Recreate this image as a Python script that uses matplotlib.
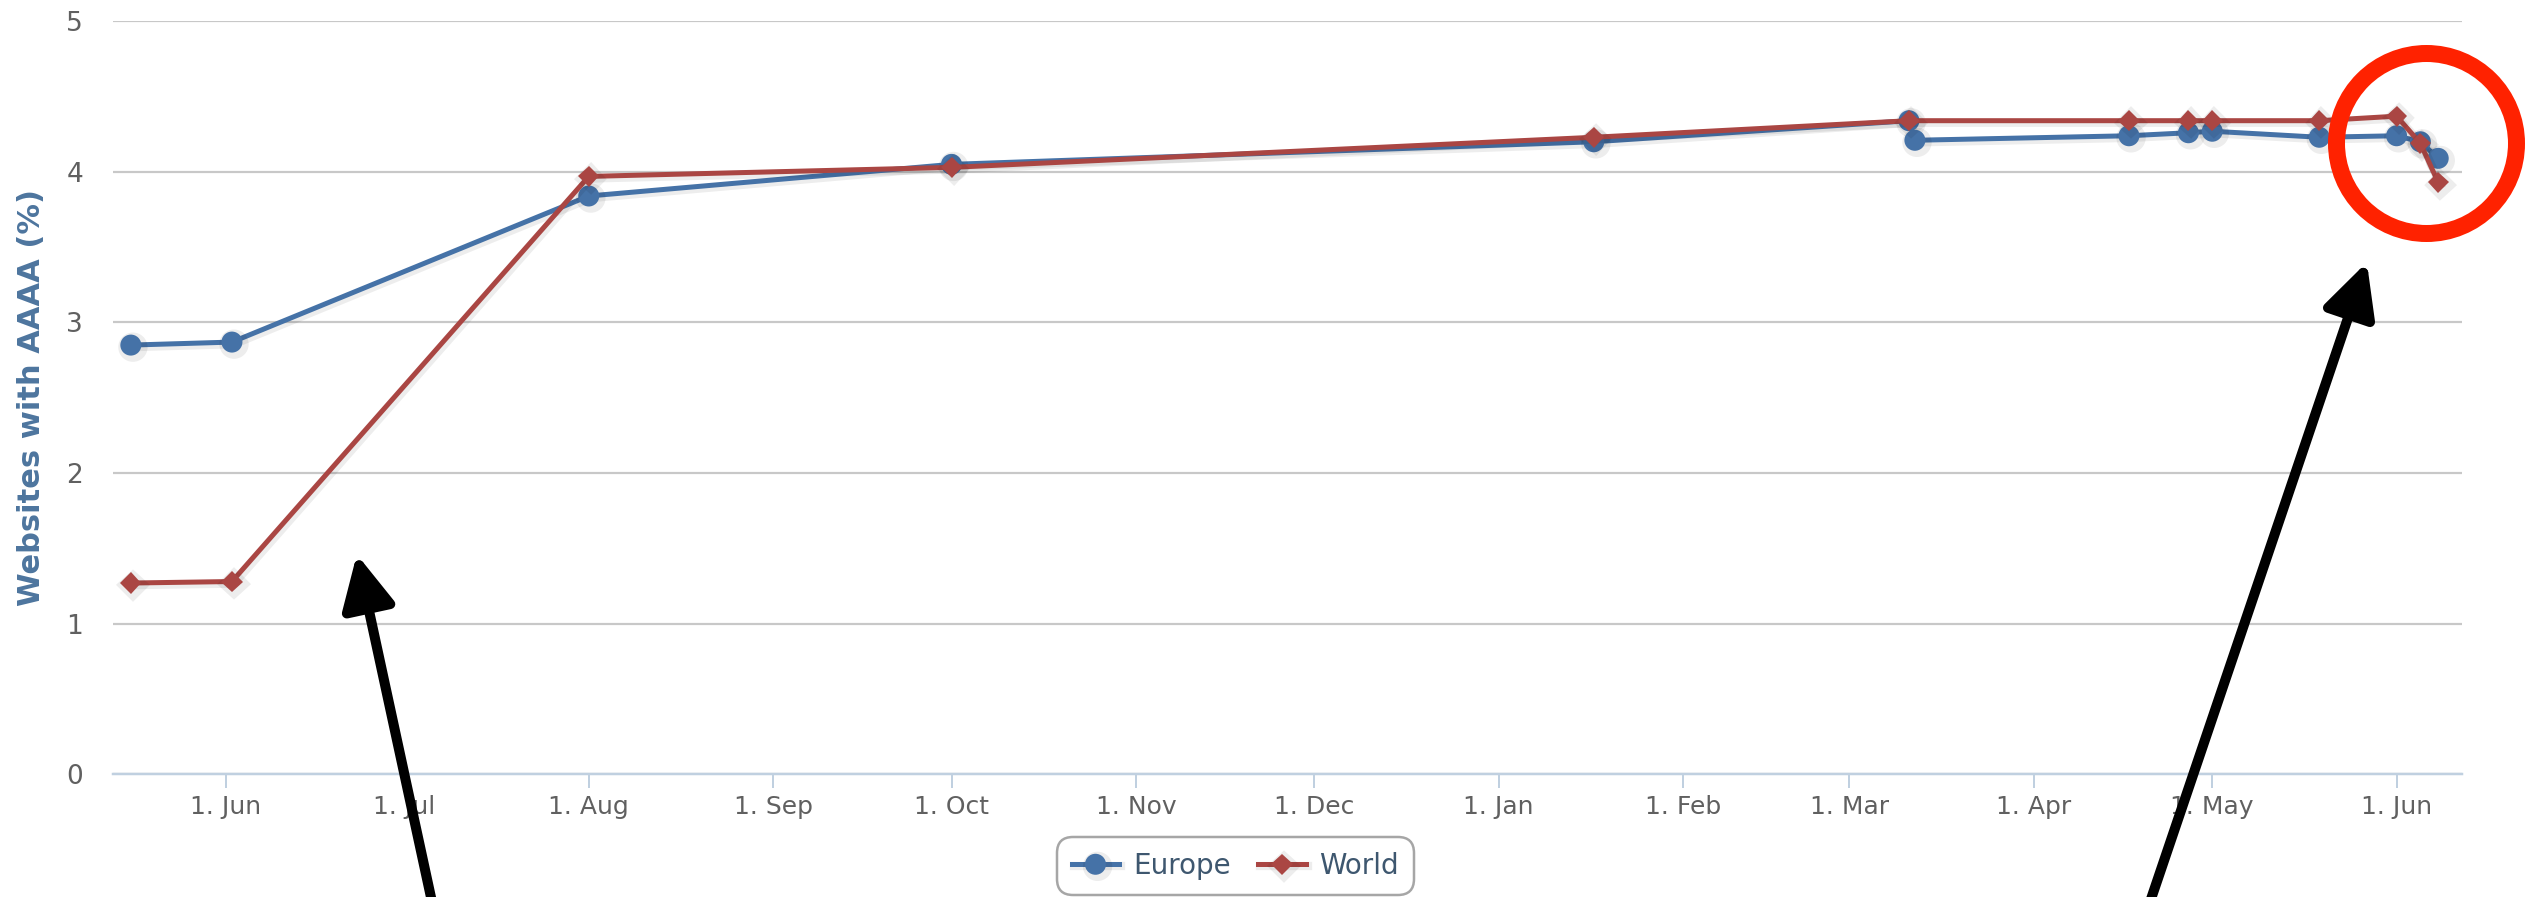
import matplotlib
matplotlib.use("Agg")
import matplotlib.pyplot as plt
import matplotlib.dates as mdates
import matplotlib.patheffects as pe
import numpy as np
import datetime as dt

# ---------------- data ----------------
europe_dates = ["2010-05-16", "2010-06-02", "2010-08-01", "2010-10-01", "2011-01-17",
                "2011-03-11", "2011-03-12", "2011-04-17", "2011-04-27", "2011-05-01",
                "2011-05-19", "2011-06-01", "2011-06-05", "2011-06-08"]
europe_values = [2.85, 2.87, 3.84, 4.05, 4.20, 4.34, 4.21, 4.24, 4.26, 4.27, 4.23, 4.24, 4.20, 4.09]

world_dates = ["2010-05-16", "2010-06-02", "2010-08-01", "2010-10-01", "2011-01-17",
               "2011-03-11", "2011-04-17", "2011-04-27", "2011-05-01", "2011-05-19",
               "2011-06-01", "2011-06-05", "2011-06-08"]
world_values = [1.27, 1.28, 3.97, 4.03, 4.23, 4.34, 4.34, 4.34, 4.34, 4.34, 4.37, 4.19, 3.93]

series_names = ["Europe", "World"]
y_label = "Websites with AAAA (%)"
y_ticks = [0, 1, 2, 3, 4, 5]
x_start, x_end = "2010-05-13", "2011-06-12"

# annotation anchors (data space)
arrow1_target = ("2010-06-23", 1.46)
arrow2_target = ("2011-05-27", 3.40)
circle_center = ("2011-06-06", 4.19)

# ---------------- style ----------------
W, H, DPI = 2540, 897, 100
PX = 72.0 / DPI  # points per pixel
blue = "#4572A7"
red = "#AA4643"
grid_c = "#C8C8C8"
axis_c = "#C0D0E0"
label_c = "#606060"
title_c = "#4D759E"
legend_txt = "#3E576F"

plt.rcParams["font.family"] = ["DejaVu Sans"]

fig = plt.figure(figsize=(W / DPI, H / DPI), dpi=DPI)
left, right, top, bottom = 113, 2462, 21.3, 774.3
ax = fig.add_axes([left / W, 1 - bottom / H, (right - left) / W, (bottom - top) / H])

def d(s):
    return mdates.date2num(dt.datetime.strptime(s, "%Y-%m-%d"))

ex = [d(s) for s in europe_dates]
wx = [d(s) for s in world_dates]

shadow = [pe.SimpleLineShadow(offset=(1.5, -1.5), shadow_color="#000000", alpha=0.07, linewidth=6), pe.Normal()]

ax.plot(ex, europe_values, color=blue, lw=5 * PX, marker="o", markersize=21 * PX,
        markeredgewidth=0, label=series_names[0], zorder=3, path_effects=shadow)
ax.plot(wx, world_values, color=red, lw=5 * PX, marker="D", markersize=15 * PX,
        markeredgewidth=0, label=series_names[1], zorder=4, path_effects=shadow)

ax.set_ylim(0, 5)
ax.set_xlim(d(x_start), d(x_end))
ax.set_yticks(y_ticks)
ax.yaxis.grid(True, color=grid_c, lw=2.2 * PX)
ax.set_axisbelow(True)
for s in ["left", "right", "top"]:
    ax.spines[s].set_visible(False)
ax.spines["bottom"].set_color(axis_c)
ax.spines["bottom"].set_linewidth(2.5 * PX)
ax.spines["bottom"].set_zorder(2.5)

ax.xaxis.set_major_locator(mdates.MonthLocator(bymonthday=1))
ax.xaxis.set_major_formatter(mdates.DateFormatter("%-d. %b"))
ax.tick_params(axis="x", direction="out", length=14 * PX, width=2 * PX, color=axis_c,
               labelsize=18, labelcolor=label_c, pad=5)
ax.tick_params(axis="y", length=0, labelsize=19, labelcolor=label_c, pad=30 * PX)

ax.set_ylabel(y_label, fontsize=22, fontweight="bold", color=title_c, va="center")
ax.yaxis.set_label_coords((31 - left) / (right - left), 0.5)

leg = fig.legend(loc="center", bbox_to_anchor=(1235.5 / W, 1 - 866 / H), ncol=2,
                 fontsize=20, frameon=True, fancybox=True, edgecolor="#909090",
                 handlelength=1.7, columnspacing=1.0, handletextpad=0.5,
                 borderpad=0.55, labelcolor=legend_txt)
leg.get_frame().set_linewidth(2.5 * PX)
leg.get_frame().set_boxstyle("round", pad=0.0, rounding_size=0.6)

# ---------------- annotations ----------------
arrow_style = "-|>,head_length=1.6,head_width=0.8"
ax.annotate("", xy=(d(arrow1_target[0]), arrow1_target[1]), xycoords="data",
            xytext=(432 / W, 0.0 - 5 / H), textcoords="figure fraction",
            arrowprops=dict(arrowstyle=arrow_style, lw=10 * PX, color="black",
                            mutation_scale=20, shrinkA=0, shrinkB=0),
            annotation_clip=False, zorder=10)
ax.annotate("", xy=(d(arrow2_target[0]), arrow2_target[1]), xycoords="data",
            xytext=(2150 / W, 0.0 - 5 / H), textcoords="figure fraction",
            arrowprops=dict(arrowstyle=arrow_style, lw=10 * PX, color="black",
                            mutation_scale=20, shrinkA=0, shrinkB=0),
            annotation_clip=False, zorder=10)
ax.plot([d(circle_center[0])], [circle_center[1]], marker="o", markersize=180 * PX,
        markerfacecolor="none", markeredgecolor="#FF2200", markeredgewidth=17 * PX,
        clip_on=False, zorder=11)

fig.savefig("out.png", dpi=DPI)
